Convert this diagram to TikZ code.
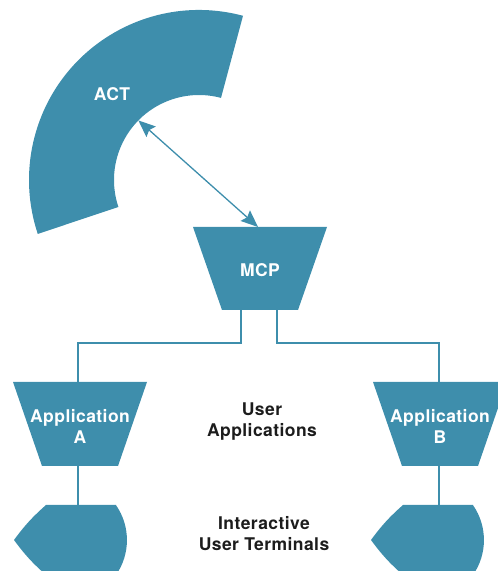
\documentclass[tikz,border=0pt]{standalone}
\usepackage{fontspec}
\setmainfont{TeX Gyre Heros}
\newfontfamily\labfont[LetterSpace=2.5]{TeX Gyre Heros}
\usetikzlibrary{arrows.meta,calc}
\definecolor{hpteal}{RGB}{62,142,172}
\definecolor{labelink}{RGB}{28,28,28}
\begin{document}
\begin{tikzpicture}[x=1pt,y=1pt,
  shapefill/.style={fill=hpteal,draw=none},
  wire/.style={draw=hpteal,line width=1.6pt},
  arrowline/.style={draw=hpteal,line width=1.3pt,
     {Stealth[length=17pt,width=14pt,inset=2.5pt]}-{Stealth[length=17pt,width=14pt,inset=2.5pt]}},
  inlabel/.style={text=white,font=\labfont\bfseries\fontsize{17.5}{21}\selectfont,align=center,inner sep=0pt},
  outlabel/.style={text=labelink,font=\labfont\bfseries\fontsize{17.5}{21}\selectfont,align=center,inner sep=0pt}]
\useasboundingbox (0,0) rectangle (498,571);
\clip (0,0) rectangle (498,571);

% ---- ACT annular sector
\coordinate (actc) at (199,391);
\fill[shapefill] ($(actc)+(75:170)$) arc[start angle=75,end angle=198.5,radius=170]
  -- ($(actc)+(198.5:85)$) arc[start angle=198.5,end angle=75,radius=85] -- cycle;
\node[inlabel] (act) at (112,477) {ACT};
\coordinate (actin) at ($(actc)+(135.5:85)$);

% ---- MCP trapezoid
\fill[shapefill] (193,344) -- (327,344) -- (298,261) -- (222,261) -- cycle;
\node[inlabel] (mcp) at (260,301) {MCP};
\coordinate (mcptop) at (258,344);
\coordinate (mcpbl) at (241,261);
\coordinate (mcpbr) at (277,261);

% ---- Application A
\fill[shapefill] (13,189) -- (147,189) -- (118,105) -- (42,105) -- cycle;
\node[inlabel] (appa) at (80,145) {Application\\A};
\coordinate (appatop) at (78,189);
\coordinate (appabot) at (78,105);

% ---- Application B
\fill[shapefill] (373,189) -- (507,189) -- (478,105) -- (402,105) -- cycle;
\node[inlabel] (appb) at (440,145) {Application\\B};
\coordinate (appbtop) at (439,189);
\coordinate (appbbot) at (439,105);

% ---- Terminals
\fill[shapefill] (116,66) -- (46,66) to[bend right=6] (14,31) to[bend right=6] (46,-4)
  -- (116,-4) arc[start angle=-34.8,end angle=34.8,radius=61.2] -- cycle;
\coordinate (terma) at (78,66);
\fill[shapefill] (473,66) -- (403,66) to[bend right=6] (371,31) to[bend right=6] (403,-4)
  -- (473,-4) arc[start angle=-34.8,end angle=34.8,radius=61.2] -- cycle;
\coordinate (termb) at (439,66);

% ---- connectors
\draw[wire] (mcpbl) -- ++(0,-33) -| (appatop);
\draw[wire] (mcpbr) -- ++(0,-33) -| (appbtop);
\draw[wire] (appabot) -- (terma);
\draw[wire] (appbbot) -- (termb);
\draw[arrowline] (actin) -- (mcptop);

% ---- side labels
\node[outlabel] (userapps) at (262,149) {User\\Applications};
\node[outlabel] (userterms) at (264,37) {Interactive\\User Terminals};
\end{tikzpicture}
\end{document}
